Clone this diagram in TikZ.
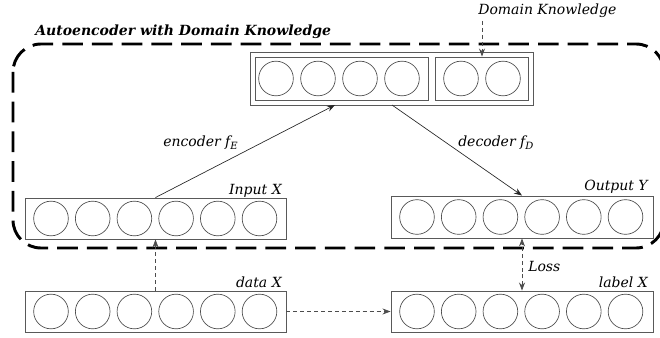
\documentclass[tikz,border=0pt]{standalone}
\usepackage{fontspec}
\setmainfont{DejaVu Serif}
\usetikzlibrary{arrows.meta,calc}

\tikzset{
  unit/.style={circle, draw=black!70, line width=0.5pt, minimum size=26pt, inner sep=0pt},
  layer/.style={rectangle, draw=black!65, line width=0.7pt, inner sep=0pt},
  lbl/.style={font=\fontsize{10.5}{12}\selectfont\itshape, inner sep=0pt},
  flow/.style={-{Stealth[length=6pt,width=4.5pt]}, line width=0.5pt, black!85},
  feed/.style={-{Stealth[length=6pt,width=4.5pt]}, line width=0.5pt, black!70, dash pattern=on 3pt off 2.2pt},
  frame/.style={line width=2.2pt, dash pattern=on 15.5pt off 6.8pt, rounded corners=21pt}
}

% six units centred in a layer box, first unit 26px from the left edge
\newcommand{\sixunits}[3]{%
  \foreach \k in {0,...,5}{\node[unit] (#1-\k) at ({#2+26+41.7*\k},#3) {};}}

\begin{document}
\begin{tikzpicture}[x=0.75pt,y=-0.75pt]
\useasboundingbox (0,0) rectangle (660,338);

% autoencoder frame
\draw[frame] (13,44) rectangle (664,248);
\node[anchor=base west, inner sep=0pt, font=\fontsize{10.5}{12}\selectfont\bfseries\itshape] (title) at (35,36) {Autoencoder with Domain Knowledge};

% latent layer with domain-knowledge units
\node[layer, minimum width=212.25pt, minimum height=39.75pt] (top) at (391.5,78.5) {};
\node[layer, minimum width=129.75pt, minimum height=32.25pt] (lat) at (341.5,78.5) {};
\node[layer, minimum width=69.75pt, minimum height=32.25pt] (dk) at (481.5,78.5) {};
\foreach \k in {0,...,3}{\node[unit] (z-\k) at ({276+42*\k},78.5) {};}
\node[unit] (d-0) at (461,78.5) {};
\node[unit] (d-1) at (503,78.5) {};

\node[lbl, anchor=base west] (dktext) at (478,15) {Domain Knowledge};
\coordinate (dkfrom) at (482,21);
\draw[feed] (dkfrom) -- (dkfrom |- dk.north);

% input and output layers
\node[layer, minimum width=195.75pt, minimum height=30.75pt] (in) at (155.5,218.5) {};
\sixunits{i}{25}{218.5}
\node[lbl, anchor=base east] at (282,195) {Input X};

\node[layer, minimum width=196.5pt, minimum height=31.5pt] (out) at (522,217) {};
\sixunits{o}{391}{217}
\node[lbl, anchor=base east] at (648,191) {Output Y};

% data and label layers
\node[layer, minimum width=195.75pt, minimum height=30.75pt] (data) at (155.5,311.5) {};
\sixunits{x}{25}{311.5}
\node[lbl, anchor=base east] at (282,287) {data X};

\node[layer, minimum width=196.5pt, minimum height=30.75pt] (label) at (522,311.5) {};
\sixunits{y}{391}{311.5}
\node[lbl, anchor=base east] at (648,287) {label X};

% encoder and decoder
\coordinate (encend) at (335,105);
\coordinate (decstart) at (392,105);
\draw[flow] (in.north) -- (encend);
\draw[flow] (decstart) -- (out.north);
\node[lbl, anchor=base west] at (163,147) {encoder f\raisebox{-2.2pt}{\fontsize{7.5}{9}\selectfont E}};
\node[lbl, anchor=base west] at (458,147) {decoder f\raisebox{-2.2pt}{\fontsize{7.5}{9}\selectfont D}};

% data flow and loss
\draw[feed] (data.north) -- (in.south);
\draw[feed] (data.east) -- (label.west);
\draw[feed, {Stealth[length=6pt,width=4.5pt]}-{Stealth[length=6pt,width=4.5pt]}] (label.north) -- (out.south);
\node[lbl, anchor=base west] at (528,272) {Loss};
\end{tikzpicture}
\end{document}
